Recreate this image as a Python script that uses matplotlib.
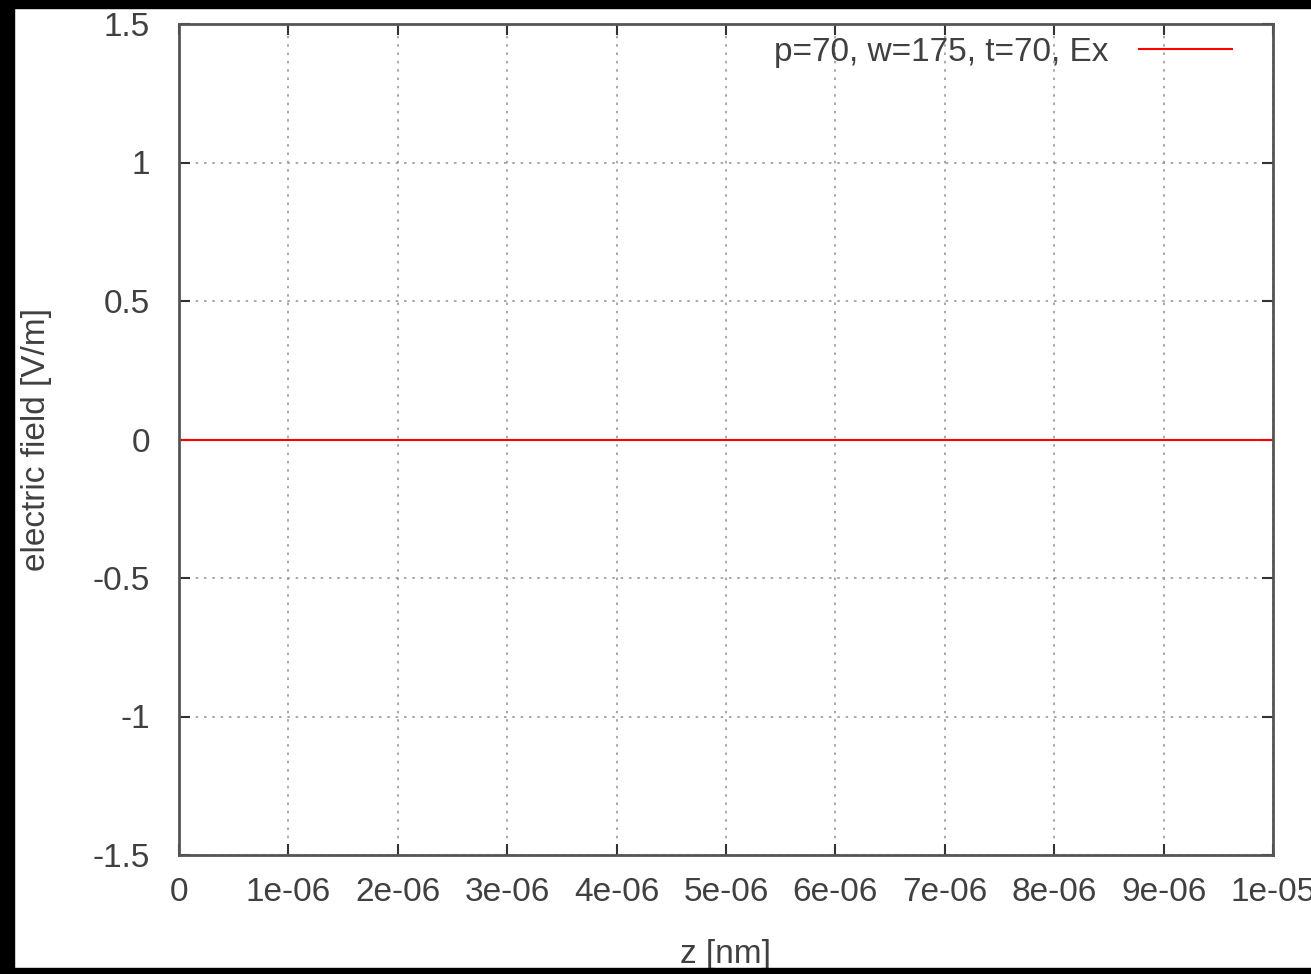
import matplotlib
matplotlib.use("Agg")
import matplotlib.pyplot as plt
from matplotlib.patches import Rectangle

z = [0.0, 1e-05]
ex = [0.0, 0.0]
xticks = [0, 1e-06, 2e-06, 3e-06, 4e-06, 5e-06, 6e-06, 7e-06, 8e-06, 9e-06, 1e-05]
xlabels = ["0", "1e-06", "2e-06", "3e-06", "4e-06", "5e-06", "6e-06", "7e-06", "8e-06", "9e-06", "1e-05"]
yticks = [-1.5, -1, -0.5, 0, 0.5, 1, 1.5]
ylabels = ["-1.5", "-1", "-0.5", "0", "0.5", "1", "1.5"]
series_label = "p=70, w=175, t=70, Ex"

plt.rcParams['font.family'] = ['Liberation Sans', 'DejaVu Sans']
W, H = 1311, 974
fig = plt.figure(figsize=(W / 100, H / 100), dpi=100)
fig.patch.set_facecolor('white')

left, right, top, bottom = 179, 1273, 24, 855
ax = fig.add_axes([left / W, 1 - bottom / H, (right - left) / W, (bottom - top) / H])

ax.plot(z, ex, color='#ff0000', lw=1.5, label=series_label)
ax.set_xlim(0, 1e-05)
ax.set_ylim(-1.5, 1.5)
ax.set_xticks(xticks)
ax.set_xticklabels(xlabels)
ax.set_yticks(yticks)
ax.set_yticklabels(ylabels)

tc = '#404040'
fs = 24
ax.tick_params(direction='in', length=8, width=1.5, color='#333333', top=True, right=True,
               labelsize=fs, labelcolor=tc)
ax.tick_params(axis='x', pad=16)
ax.tick_params(axis='y', pad=21)
for s in ax.spines.values():
    s.set_color('#555555')
    s.set_linewidth(2)
ax.grid(True, color='#999999', linestyle=(0, (1.5, 3.5)), linewidth=1.2)

ax.set_xlabel("z [nm]", fontsize=fs, color=tc, labelpad=22)
ax.set_ylabel("electric field [V/m]", fontsize=fs, color=tc, labelpad=29)

leg = ax.legend(loc='upper right', frameon=False, markerfirst=False, fontsize=fs,
                handlelength=2.8, handletextpad=0.9, borderpad=0,
                bbox_to_anchor=((1249 - left) / (right - left), 1 - (20 - top) / (bottom - top)))
for t in leg.get_texts():
    t.set_color(tc)

# black frame from the screenshot
fig.patches.append(Rectangle((0, 0), 14 / W, 1, transform=fig.transFigure, color='black', zorder=10))
fig.patches.append(Rectangle((0, 1 - 8 / H), 1, 8 / H, transform=fig.transFigure, color='black', zorder=10))
fig.patches.append(Rectangle((0, 0), 1, 6 / H, transform=fig.transFigure, color='black', zorder=10))

fig.savefig("out.png", dpi=100)
